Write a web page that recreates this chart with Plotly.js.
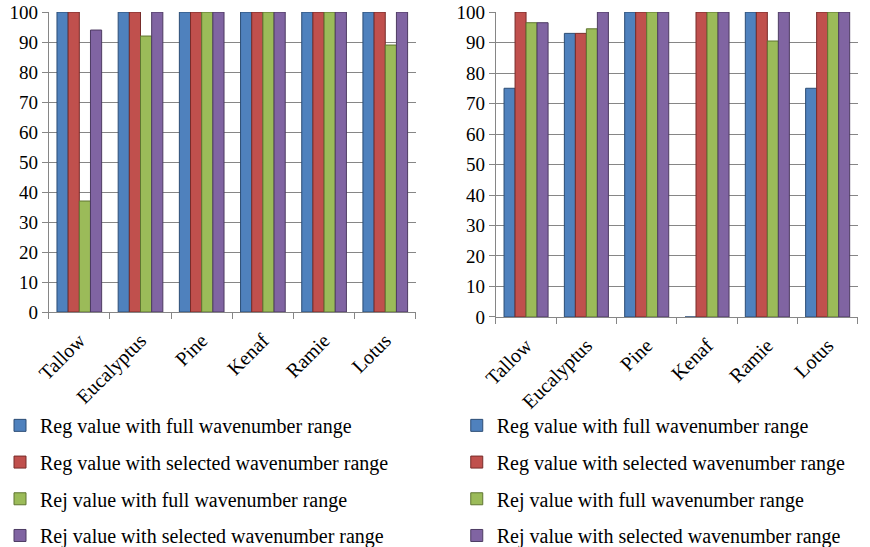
<!DOCTYPE html>
<html>
<head>
<meta charset="utf-8">
<script src="https://cdn.plot.ly/plotly-3.0.1.min.js"></script>
<style>
  html, body { margin: 0; padding: 0; background: #fff; }
  #plot { width: 870px; height: 547px; }
</style>
</head>
<body>
<div id="plot"></div>
<script>
const categories = ['Tallow', 'Eucalyptus', 'Pine', 'Kenaf', 'Ramie', 'Lotus']
const seriesNames = [
  'Reg value with full wavenumber range',
  'Reg value with selected wavenumber range',
  'Rej value with full wavenumber range',
  'Rej value with selected wavenumber range'
]

// left panel
const leftRegFull = [100, 100, 100, 100, 100, 100]
const leftRegSel = [100, 100, 100, 100, 100, 100]
const leftRejFull = [37, 92, 100, 100, 100, 89]
const leftRejSel = [94, 100, 100, 100, 100, 100]

// right panel
const rightRegFull = [75, 93, 100, 0, 100, 75]
const rightRegSel = [100, 93, 100, 100, 100, 100]
const rightRejFull = [96.5, 94.5, 100, 100, 90.5, 100]
const rightRejSel = [96.5, 100, 100, 100, 100, 100]

const colors = ['#4f81bd', '#c0504d', '#9bbb59', '#8064a2']
const edges = ['#2c4d75', '#772c2a', '#5f7530', '#4d3b62']

const font = 'Liberation Serif'

function bars (values, i, xa, ya, legend) {
  return {
    type: 'bar',
    x: categories,
    y: values,
    name: seriesNames[i],
    xaxis: xa,
    yaxis: ya,
    legend: legend,
    legendgroup: legend + i,
    marker: { color: colors[i], line: { color: edges[i], width: 1 } },
    hoverinfo: 'y'
  }
}

const data = [
  bars(leftRegFull, 0, 'x', 'y', 'legend'),
  bars(leftRegSel, 1, 'x', 'y', 'legend'),
  bars(leftRejFull, 2, 'x', 'y', 'legend'),
  bars(leftRejSel, 3, 'x', 'y', 'legend'),
  bars(rightRegFull, 0, 'x2', 'y2', 'legend2'),
  bars(rightRegSel, 1, 'x2', 'y2', 'legend2'),
  bars(rightRejFull, 2, 'x2', 'y2', 'legend2'),
  bars(rightRejSel, 3, 'x2', 'y2', 'legend2')
]

const xCommon = {
  type: 'category',
  tickson: 'boundaries',
  ticks: 'outside',
  ticklen: 6,
  tickcolor: '#868686',
  showline: true,
  linecolor: '#868686',
  linewidth: 1,
  showgrid: false,
  tickangle: -45,
  ticklabelstandoff: 8,
  tickfont: { family: font, size: 20, color: '#000' },
  ticklabeloverflow: 'allow',
  automargin: false,
  fixedrange: true
}

const yCommon = {
  range: [0, 100],
  dtick: 10,
  ticks: 'outside',
  ticklen: 6,
  tickcolor: '#868686',
  showline: true,
  linecolor: '#868686',
  showgrid: true,
  gridcolor: '#868686',
  gridwidth: 1,
  zeroline: false,
  tickfont: { family: font, size: 19, color: '#000' },
  ticklabeloverflow: 'allow',
  automargin: false,
  fixedrange: true
}

const legendCommon = {
  font: { family: font, size: 20, color: '#000' },
  xanchor: 'left',
  yanchor: 'top',
  y: 0.258,
  traceorder: 'grouped',
  tracegroupgap: 7.7,
  bgcolor: 'rgba(0,0,0,0)',
  itemwidth: 30
}

const layout = {
  width: 870,
  height: 547,
  margin: { l: 0, r: 0, t: 0, b: 0, autoexpand: false },
  font: { family: font, color: '#000' },
  paper_bgcolor: '#fff',
  plot_bgcolor: '#fff',
  barmode: 'group',
  bargap: 0.27,
  bargroupgap: 0,
  showlegend: true,
  xaxis: Object.assign({}, xCommon, { domain: [0.056, 0.478], anchor: 'y' }),
  yaxis: Object.assign({}, yCommon, { domain: [0.4296, 0.978], anchor: 'x' }),
  xaxis2: Object.assign({}, xCommon, { domain: [0.570, 0.986], anchor: 'y2' }),
  yaxis2: Object.assign({}, yCommon, { domain: [0.4205, 0.978], anchor: 'x2' }),
  legend: Object.assign({}, legendCommon, { x: 0 }),
  legend2: Object.assign({}, legendCommon, { x: 0.525 })
}

Plotly.newPlot('plot', data, layout, { displayModeBar: false, staticPlot: true })
</script>
</body>
</html>
